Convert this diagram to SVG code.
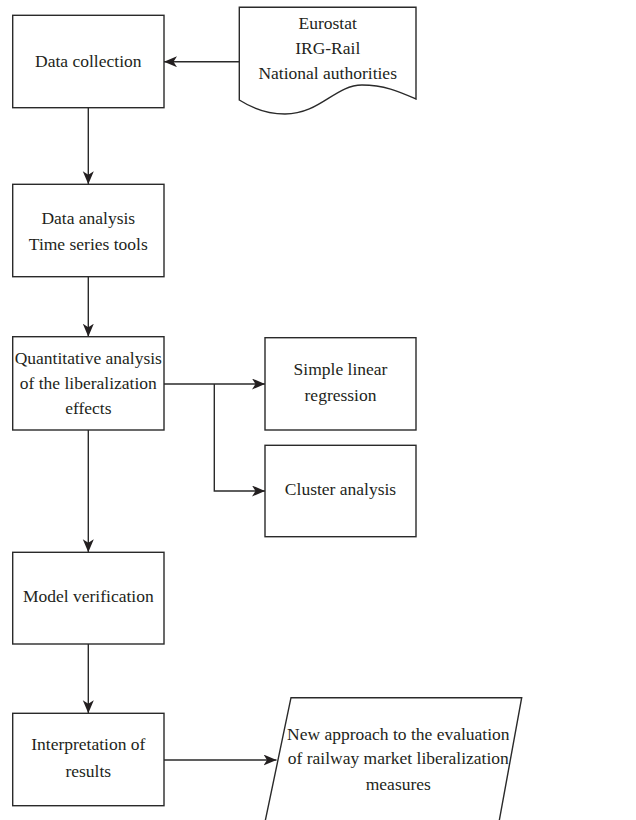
<svg xmlns="http://www.w3.org/2000/svg" width="636" height="820" viewBox="0 0 636 820">
<style>
.box{fill:#fff;stroke:#2a2a2a;stroke-width:1.4}
.t{font-family:"Liberation Serif","Times New Roman",serif;font-size:17.5px;fill:#231f20;text-anchor:middle}
.c{fill:none;stroke:#2a2a2a;stroke-width:1.4}
</style>
<defs>
<marker id="ah" markerUnits="userSpaceOnUse" markerWidth="14" markerHeight="12" refX="13" refY="5.5" orient="auto">
<path d="M0,0 L13,5.5 L0,11 L3.5,5.5 z" fill="#231f20"/>
</marker>
</defs>
<rect width="636" height="820" fill="#fff"/>
<g id="connectors">
<line class="c" x1="239.3" y1="61.7" x2="164" y2="61.7" marker-end="url(#ah)"/>
<line class="c" x1="88.3" y1="107.7" x2="88.3" y2="184.3" marker-end="url(#ah)"/>
<line class="c" x1="88.3" y1="276.7" x2="88.3" y2="336.7" marker-end="url(#ah)"/>
<line class="c" x1="164" y1="384" x2="265" y2="384" marker-end="url(#ah)"/>
<path class="c" d="M214.3,384 V491 H265" marker-end="url(#ah)"/>
<line class="c" x1="88.3" y1="430" x2="88.3" y2="552.3" marker-end="url(#ah)"/>
<line class="c" x1="88.3" y1="644" x2="88.3" y2="713.3" marker-end="url(#ah)"/>
<line class="c" x1="164" y1="760" x2="276.5" y2="760" marker-end="url(#ah)"/>
</g>
<g id="data-collection">
<rect class="box" x="12.7" y="15.3" width="151.3" height="92.4"/>
<text class="t" x="88.3" y="67">Data collection</text>
</g>
<g id="sources">
<path class="box" d="M239.3,7.3 H416 V99 C400,92 385,85 362,85 C335,85 320,114 285,114 C270,114 255,110 239.3,100 Z"/>
<text class="t" x="327.7" y="28.5">Eurostat</text>
<text class="t" x="327.7" y="54">IRG-Rail</text>
<text class="t" x="327.7" y="79">National authorities</text>
</g>
<g id="data-analysis">
<rect class="box" x="12.7" y="184.3" width="151.3" height="92.4"/>
<text class="t" x="88.3" y="224.3">Data analysis</text>
<text class="t" x="88.3" y="250">Time series tools</text>
</g>
<g id="quantitative">
<rect class="box" x="12.7" y="336.7" width="151.3" height="93.3"/>
<text class="t" x="88.3" y="364.3">Quantitative analysis</text>
<text class="t" x="88.3" y="389.3">of the liberalization</text>
<text class="t" x="88.3" y="414.3">effects</text>
</g>
<g id="simple-linear">
<rect class="box" x="265" y="337.7" width="151" height="92.3"/>
<text class="t" x="340.5" y="375">Simple linear</text>
<text class="t" x="340.5" y="400.7">regression</text>
</g>
<g id="cluster">
<rect class="box" x="265" y="445.3" width="151" height="91.4"/>
<text class="t" x="340.5" y="495">Cluster analysis</text>
</g>
<g id="model-verification">
<rect class="box" x="12.7" y="552.3" width="151.3" height="91.7"/>
<text class="t" x="88.3" y="601.7">Model verification</text>
</g>
<g id="interpretation">
<rect class="box" x="12.7" y="713.3" width="151.3" height="92.4"/>
<text class="t" x="88.3" y="750">Interpretation of</text>
<text class="t" x="88.3" y="776.7">results</text>
</g>
<g id="new-approach">
<path class="box" d="M291,697.7 H521.7 L499,822 H265 Z"/>
<text class="t" x="398.3" y="740">New approach to the evaluation</text>
<text class="t" x="398.3" y="764.3">of railway market liberalization</text>
<text class="t" x="398.3" y="790">measures</text>
</g>
</svg>
